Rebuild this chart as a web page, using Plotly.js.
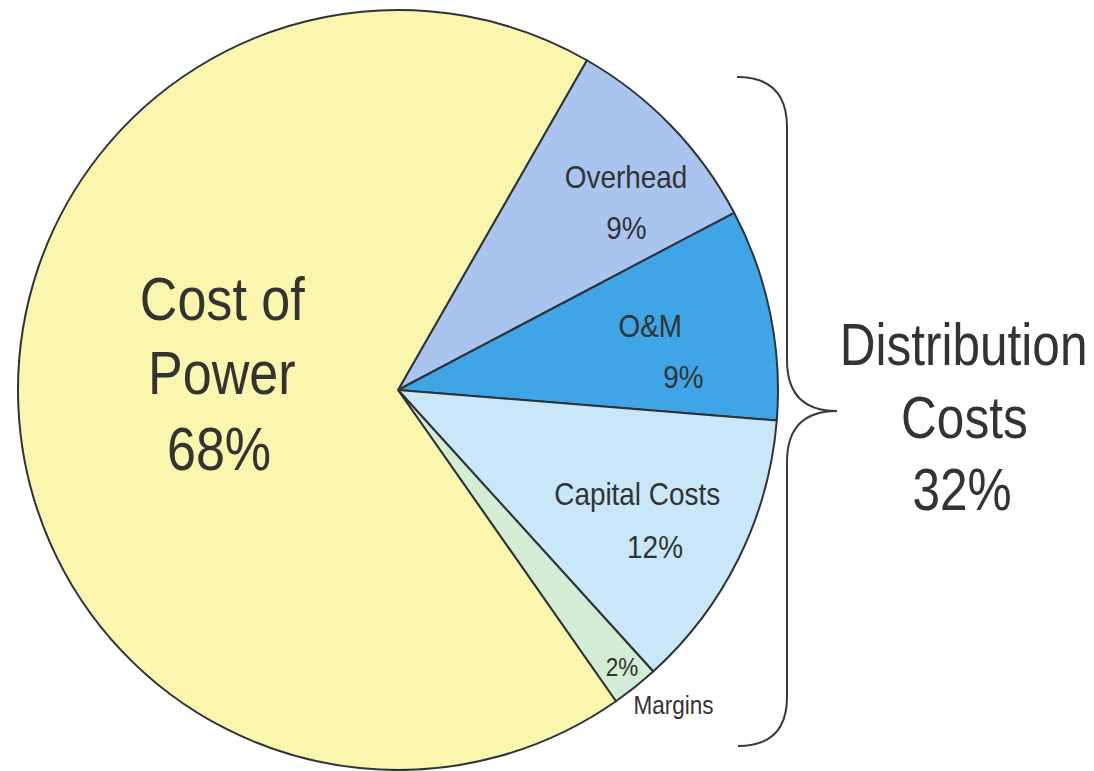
<!DOCTYPE html>
<html>
<head>
<meta charset="utf-8">
<script src="https://cdn.plot.ly/plotly-3.0.1.min.js"></script>
<style>html,body{margin:0;padding:0;background:#fff;}</style>
</head>
<body>
<div id="chart" style="width:1094px;height:771px;"></div>
<script>
const categories = ["Overhead", "O&M", "Capital Costs", "Margins", "Cost of Power"];
const values = [9, 9, 12, 2, 68];
const sliceColors = ["#aac4f0", "#3fa5e7", "#c9e7f9", "#d3edd4", "#fbf6ad"];
const groupLabel = ["Distribution", "Costs", "32%"];
const powerLabel = ["Cost of", "Power", "68%"];

const FONT = "'Liberation Sans', Arial, sans-serif";
const INK = "#333333";

const W = 1094, H = 771;
const cx = 398, cy = 390, R = 380;

const pie = {
  type: "pie",
  labels: categories,
  values: values,
  sort: false,
  direction: "clockwise",
  rotation: 29.8,
  marker: {colors: sliceColors, line: {color: "#2e3338", width: 2}},
  textinfo: "none",
  hoverinfo: "label+percent",
  showlegend: false,
  domain: {x: [(cx - R) / W, (cx + R) / W], y: [1 - (cy + R) / H, 1 - (cy - R) / H]}
};

function ann(text, x, y, size) {
  return {text: text, x: x, y: y, xref: "x", yref: "y", showarrow: false,
          xanchor: "center", yanchor: "middle",
          font: {family: FONT, size: size, color: INK}};
}

const annotations = [
  ann(powerLabel[0], 222, 298, 62),
  ann(powerLabel[1], 222, 372, 62),
  ann(powerLabel[2], 219, 448, 62),
  ann(categories[0], 626, 177, 31),
  ann(values[0] + "%", 626, 228, 31),
  ann(categories[1], 650, 326, 31),
  ann(values[1] + "%", 683, 377, 31),
  ann(categories[2], 637, 494, 31),
  ann(values[2] + "%", 655, 547, 31),
  ann(values[3] + "%", 622, 667, 25),
  ann(categories[3], 673, 705, 25),
  ann(groupLabel[0], 963, 345, 59),
  ann(groupLabel[1], 964, 418, 59),
  ann(groupLabel[2], 962, 490, 59)
];

const brace = {
  type: "path", xref: "x", yref: "y",
  path: "M 737 77 Q 787 77 787 127 L 787 360 Q 787 411 837 411 Q 787 411 787 462 L 787 697 Q 787 746 738 746",
  line: {color: "#3a3a3a", width: 2}
};

const layout = {
  width: W, height: H,
  margin: {l: 0, r: 0, t: 0, b: 0},
  paper_bgcolor: "#ffffff", plot_bgcolor: "rgba(0,0,0,0)",
  xaxis: {range: [0, W], visible: false, fixedrange: true},
  yaxis: {range: [H, 0], visible: false, fixedrange: true},
  annotations: annotations,
  shapes: [brace],
  showlegend: false
};

Plotly.newPlot("chart", [pie], layout, {displayModeBar: false, staticPlot: true}).then(function (gd) {
  // The reference uses a condensed sans face; narrow the text horizontally about its centre.
  gd.querySelectorAll(".annotation-text").forEach(function (t) {
    const size = parseFloat(t.style.fontSize) || 30;
    const s = size > 40 ? 0.84 : 0.9;
    const b = t.getBBox();
    const c = b.x + b.width / 2;
    t.setAttribute("transform", "translate(" + c + ",0) scale(" + s + ",1) translate(" + (-c) + ",0)");
  });
});
</script>
</body>
</html>
